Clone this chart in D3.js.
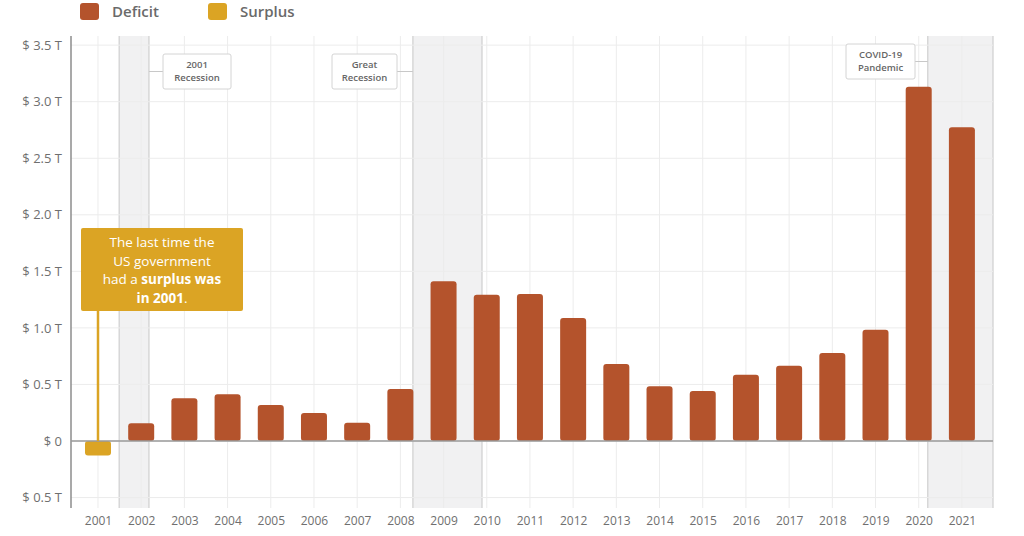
<!DOCTYPE html>
<html><head><meta charset="utf-8">
<script src="https://cdn.jsdelivr.net/npm/d3@7"></script>
<style>
body{margin:0;background:#fff;}
text{font-family:"Open Sans","Noto Sans",sans-serif;}
</style></head>
<body><svg id="c" width="1024" height="536"></svg>
<script>
const years = [2001,2002,2003,2004,2005,2006,2007,2008,2009,2010,2011,2012,2013,2014,2015,2016,2017,2018,2019,2020,2021];
const deficitT = [-0.128,0.158,0.378,0.413,0.318,0.248,0.161,0.459,1.413,1.294,1.300,1.087,0.680,0.485,0.442,0.585,0.665,0.779,0.984,3.132,2.775];
const yTicks = [-0.5,0,0.5,1.0,1.5,2.0,2.5,3.0,3.5];
const yTickLabels = ["$ 0.5 T","$ 0","$ 0.5 T","$ 1.0 T","$ 1.5 T","$ 2.0 T","$ 2.5 T","$ 3.0 T","$ 3.5 T"];
const recessionNames = [["2001","Recession"],["Great","Recession"],["COVID-19","Pandemic"]];
const recessionStart = [2001.49, 2008.29, 2020.21];
const recessionEnd = [2002.18, 2009.89, 2021.72];
const legendLabels = ["Deficit","Surplus"];
const colors = {Deficit:"#b4532c", Surplus:"#dba424"};

const svg = d3.select("#c");
const L=71, R=993, T=36, B=508;
const x = d3.scaleLinear().domain([2000.375, 2021.72]).range([L,R]);
const y = d3.scaleLinear().domain([0 - (B-441)/113.1, 0 + (441-T)/113.1]).range([B, T]);

// recession shading
const g0 = svg.append("g");
recessionStart.forEach((s,i)=>{
  g0.append("rect").attr("x",x(s)).attr("y",T).attr("width",x(recessionEnd[i])-x(s)).attr("height",B-T).attr("fill","#f1f1f2");
  [s, recessionEnd[i]].forEach(v=>g0.append("line").attr("x1",x(v)).attr("x2",x(v)).attr("y1",T).attr("y2",B).attr("stroke","#cfcfcf").attr("stroke-width",1.2));
});

// grid
const grid = svg.append("g");
yTicks.forEach(t=>grid.append("line").attr("x1",L).attr("x2",R).attr("y1",y(t)).attr("y2",y(t)).attr("stroke","#ececec"));
years.forEach(yr=>grid.append("line").attr("x1",x(yr)).attr("x2",x(yr)).attr("y1",T).attr("y2",B).attr("stroke","#ececec"));

// y axis
const yAxis = d3.axisLeft(y).tickValues(yTicks).tickFormat((d,i)=>yTickLabels[i]).tickSize(0).tickPadding(9);
const ya = svg.append("g").attr("transform",`translate(${L},0)`).call(yAxis);
ya.select(".domain").remove();
ya.selectAll("text").attr("font-size",13).attr("fill","#6f6f6f");
svg.append("line").attr("x1",L).attr("x2",L).attr("y1",T).attr("y2",B).attr("stroke","#8c8c8c").attr("stroke-width",1.5);

// x axis labels
const xAxis = d3.axisBottom(x).tickValues(years).tickFormat(d=>String(d)).tickSize(0).tickPadding(8);
const xa = svg.append("g").attr("transform",`translate(0,${B})`).call(xAxis);
xa.select(".domain").remove();
xa.selectAll("text").attr("font-size",12).attr("fill","#6f6f6f");

// bars
const bw = 26;
svg.append("g").selectAll("rect").data(years.map((yr,i)=>({yr,v:deficitT[i]}))).join("rect")
  .attr("x",d=>x(d.yr)-bw/2).attr("width",bw)
  .attr("y",d=>Math.min(y(d.v),y(0))).attr("height",d=>Math.abs(y(d.v)-y(0)))
  .attr("rx",3)
  .attr("fill",d=>d.v<0?colors.Surplus:colors.Deficit);

// zero line
svg.append("line").attr("x1",L).attr("x2",R).attr("y1",y(0)).attr("y2",y(0)).attr("stroke","#9a9a9a").attr("stroke-width",1.5);

// recession annotations
const boxes = [{x:163,y:54,w:68,h:35,side:"right"},{x:332,y:54,w:65,h:35,side:"left"},{x:846,y:44,w:69,h:35,side:"left"}];
boxes.forEach((b,i)=>{
  const cy = b.y+b.h/2;
  const edge = b.side==="right" ? x(recessionEnd[i]) : x(recessionStart[i]);
  const bx = b.side==="right" ? b.x : b.x+b.w;
  svg.append("line").attr("x1",edge).attr("x2",bx).attr("y1",cy).attr("y2",cy).attr("stroke","#c8c8c8");
  svg.append("rect").attr("x",b.x).attr("y",b.y).attr("width",b.w).attr("height",b.h).attr("rx",2)
    .attr("fill","#fff").attr("stroke","#d4d4d4");
  recessionNames[i].forEach((t,j)=>svg.append("text").attr("x",b.x+b.w/2).attr("y",b.y+14+j*13)
    .attr("text-anchor","middle").attr("font-size",9.5).attr("font-weight",600).attr("fill","#666").text(t));
});

// surplus callout
const sx = x(2001);
svg.append("line").attr("x1",sx).attr("x2",sx).attr("y1",311).attr("y2",y(0)).attr("stroke",colors.Surplus).attr("stroke-width",2.5);
svg.append("rect").attr("x",81).attr("y",228).attr("width",162).attr("height",83).attr("rx",2).attr("fill",colors.Surplus);
const lines = [[["The last time the",400]],[["US government",400]],[["had a ",400],["surplus was",700]],[["in 2001",700],[".",400]]];
lines.forEach((ln,j)=>{
  const t = svg.append("text").attr("x",162).attr("y",247+j*18.5).attr("text-anchor","middle").attr("font-size",13.5).attr("fill","#fff");
  ln.forEach(([s,w])=>t.append("tspan").attr("font-weight",w).text(s));
});

// legend
legendLabels.forEach((l,i)=>{
  const lx = [80,208][i];
  svg.append("rect").attr("x",lx).attr("y",3).attr("width",19).attr("height",17).attr("rx",3).attr("fill",colors[l]);
  svg.append("text").attr("x",lx+32).attr("y",17).attr("font-size",15).attr("font-weight",600).attr("fill","#6a6a6a").text(l);
});
</script></body></html>
